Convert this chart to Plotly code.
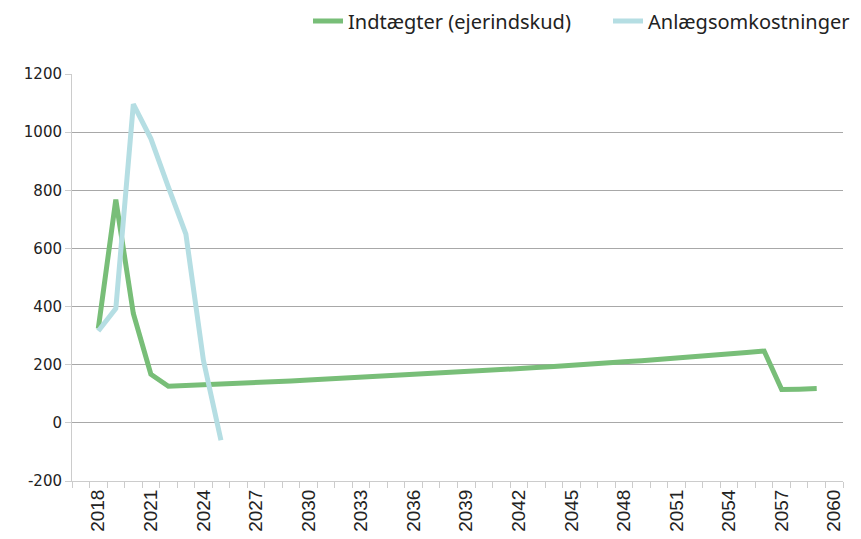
import plotly.graph_objects as go

years = list(range(2017, 2061))
indtaegter = [None, 324, 768, 376, 167, 126, 128, 131, 133, 136, 138, 141, 144, 147,
              150, 153, 156, 159, 162, 165, 168, 172, 175, 179, 182, 186, 190, 194,
              197, 201, 205, 210, 214, 218, 223, 227, 232, 237, 242, 247,
              115, 116, 118, None]
anlaeg = [None, 316, 393, 1096, 978, 811, 649, 215, -60] + [None] * 35
tick_years = list(range(2018, 2061, 3))
y_ticks = [-200, 0, 200, 400, 600, 800, 1000, 1200]
y_labels = ["-200", "0", "200", "400", "600", "800", "1000", "1200"]

fig = go.Figure()
fig.add_trace(go.Scatter(x=years, y=indtaegter, mode="lines", name="Indtægter (ejerindskud)",
                         line=dict(color="#78BE78", width=5), connectgaps=False))
fig.add_trace(go.Scatter(x=years, y=anlaeg, mode="lines", name="Anlægsomkostninger",
                         line=dict(color="#B5DEE3", width=5), connectgaps=False))

fig.update_layout(
    width=861, height=539,
    margin=dict(l=64, r=26, t=66, b=66, autoexpand=False),
    plot_bgcolor="white", paper_bgcolor="white",
    legend=dict(orientation="h", x=(308 - 72) / 771, xanchor="left", y=1.13, yanchor="middle",
                font=dict(family="Noto Sans", size=20, color="#222"),
                itemwidth=30, entrywidth=255, entrywidthmode="pixels"),
    xaxis=dict(range=[2016.5, 2060.5], tickmode="array", tickvals=tick_years,
               ticktext=[str(t) for t in tick_years], tickangle=-90, ticks="",
               showgrid=False, zeroline=False, showline=True, linecolor="#cccccc", linewidth=1,
               automargin=False,
               tickfont=dict(family="Liberation Sans", size=19, color="#222"),
               minor=dict(tick0=2016.5, dtick=1, ticks="outside", ticklen=6, tickcolor="#cccccc",
                          showgrid=False)),
    yaxis=dict(range=[-200, 1200], tickmode="array", tickvals=y_ticks, ticktext=y_labels,
               ticks="outside", ticklen=6, tickcolor="#cccccc",
               showgrid=True, gridcolor="#a8a8a8", gridwidth=1,
               zeroline=True, zerolinecolor="#a8a8a8", zerolinewidth=1,
               showline=True, linecolor="#cccccc", linewidth=1, automargin=False,
               tickfont=dict(family="DejaVu Sans", size=15, color="#222")),
)
fig.write_html("out.html")
